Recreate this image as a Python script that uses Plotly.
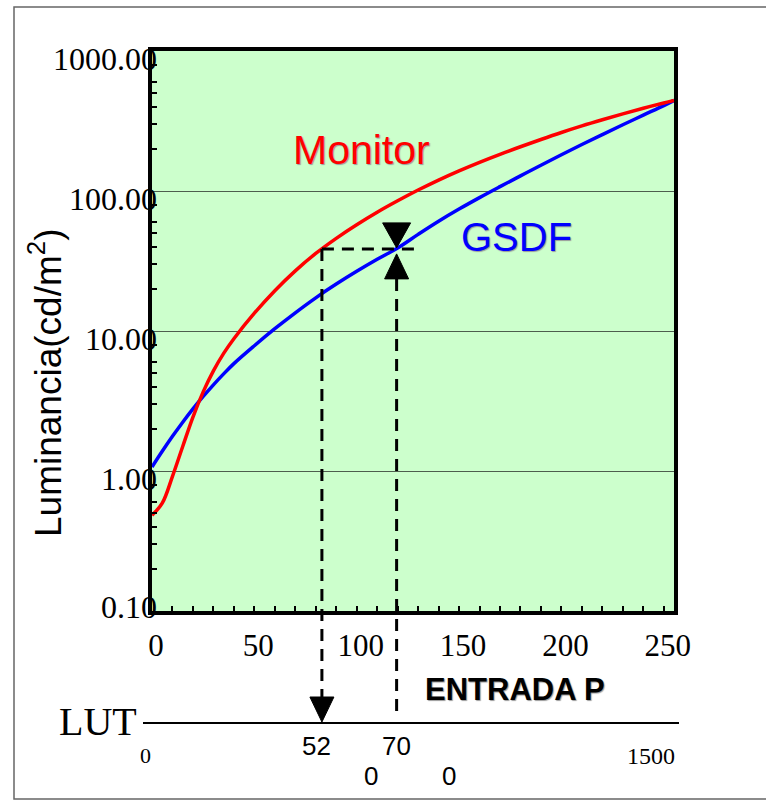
import numpy as np
import plotly.graph_objects as go

# ---------------- data ----------------
entrada = [0, 5, 10, 15, 20, 25, 30, 35, 40, 50, 60, 70, 80, 90, 100, 110, 120,
           130, 140, 150, 160, 170, 180, 190, 200, 210, 220, 230, 240, 250, 255]
monitor = [0.483, 0.589, 0.916, 1.496, 2.427, 3.673, 5.19, 6.92, 8.81, 13.4, 19.41,
           26.9, 35.8, 45.9, 57.4, 70.5, 85.1, 101.6, 119.7, 139.3, 160.3, 182.8,
           207.0, 233.3, 261.8, 291.7, 322.8, 355.6, 390.0, 425.6, 443.6]
gsdf = [1.068, 1.382, 1.768, 2.232, 2.777, 3.408, 4.126, 4.938, 5.848, 7.85, 10.38,
        13.49, 17.26, 21.63, 26.67, 32.5, 39.2, 49.0, 60.8, 74.3, 89.7, 107.4, 128.2,
        152.8, 181.6, 214.8, 252.9, 297.2, 348.3, 407.4, 443.6]

y_ticks = [0.1, 1, 10, 100, 1000]
y_tick_text = ["0.10", "1.00", "10.00", "100.00", "1000.00"]
x_ticks = [0, 50, 100, 150, 200, 250]
y_minor = [0.2, 0.3, 0.4, 0.5, 0.6, 0.8, 2, 3, 4, 5, 6, 8,
           20, 30, 40, 50, 60, 80, 200, 300, 400, 500, 600, 800]

p_monitor = 83.0     # entrada P on monitor curve
p_gsdf = 119.5       # entrada P on GSDF curve
l_target = 38.6      # target luminance
lut_labels = ["52", "70", "0", "0"]

# ---------------- geometry helpers ----------------
W, H = 766, 804
ML, MR, MT, MB = 152, 92, 51, 193
PW, PH = W - ML - MR, H - MT - MB
YLOG = (-1, 3)


def px(xp):
    return (xp - ML) / PW


def py(yp):
    return (H - MB - yp) / PH


def ypaper(v):
    return (np.log10(v) - YLOG[0]) / (YLOG[1] - YLOG[0])


l_mon_at_gsdf = 10 ** np.interp(p_gsdf, entrada, np.log10(monitor))

fig = go.Figure()
fig.add_trace(go.Scatter(x=entrada, y=gsdf, mode="lines",
                         line=dict(color="#0000FF", width=3.5, shape="spline", smoothing=1.0)))
fig.add_trace(go.Scatter(x=entrada, y=monitor, mode="lines",
                         line=dict(color="#FF0000", width=3.5, shape="spline", smoothing=1.0)))

shapes = []
# outer frame
shapes.append(dict(type="rect", xref="paper", yref="paper", x0=px(14), x1=px(772),
                   y0=py(799), y1=py(7), line=dict(color="#666666", width=1.5), layer="below"))
# LUT line
shapes.append(dict(type="line", xref="paper", yref="paper", x0=px(143), x1=px(679),
                   y0=py(723), y1=py(723), line=dict(color="black", width=2)))
dash = "12px,8px"
# vertical dashed line from monitor point down to LUT
shapes.append(dict(type="line", xref="x", x0=p_monitor, x1=p_monitor,
                   yref="paper", ysizemode="pixel", yanchor=ypaper(l_target), y0=0, y1=-448,
                   line=dict(color="black", width=3, dash=dash)))
# arrow on LUT line
shapes.append(dict(type="path", xref="x", xsizemode="pixel", xanchor=p_monitor,
                   yref="paper", ysizemode="pixel", yanchor=py(723),
                   path="M -12,26 L 12,26 L 0,1 Z", fillcolor="black", line=dict(color="black", width=1)))
# horizontal dashed line
shapes.append(dict(type="line", xref="x", x0=p_monitor, x1=p_gsdf + 10.5, yref="y",
                   y0=l_target, y1=l_target, line=dict(color="black", width=3, dash=dash)))
# solid stub from monitor curve
shapes.append(dict(type="line", xref="x", x0=p_gsdf, x1=p_gsdf, yref="y", ysizemode="pixel",
                   yanchor=l_mon_at_gsdf, y0=0, y1=-26, line=dict(color="black", width=4)))
# down triangle
shapes.append(dict(type="path", xref="x", xsizemode="pixel", xanchor=p_gsdf,
                   yref="y", ysizemode="pixel", yanchor=l_target,
                   path="M -14,26 L 14,26 L 0,1 Z", fillcolor="black", line=dict(color="black", width=1)))
# up triangle
shapes.append(dict(type="path", xref="x", xsizemode="pixel", xanchor=p_gsdf,
                   yref="y", ysizemode="pixel", yanchor=l_target,
                   path="M -12,-30 L 12,-30 L 0,-5 Z", fillcolor="black", line=dict(color="black", width=1)))
# vertical dashed line from GSDF point down
shapes.append(dict(type="line", xref="x", x0=p_gsdf, x1=p_gsdf,
                   yref="paper", ysizemode="pixel", yanchor=ypaper(l_target), y0=-30, y1=-468,
                   line=dict(color="black", width=3, dash=dash)))

serif = "Liberation Serif"
sans = "Liberation Sans"
ann = []
for v, t in zip(y_ticks, y_tick_text):
    ann.append(dict(xref="paper", x=0, xanchor="right", xshift=7,
                    yref="y", y=np.log10(v), yanchor="middle",
                    yshift=(4 if v == 0.1 else -8), text=t, showarrow=False,
                    font=dict(family=serif, size=32, color="black")))


def label(x, y, text, size, family=sans, color="black", xanchor="center", angle=0, shadow=None):
    f = dict(family=family, size=size, color=color)
    if shadow:
        f["shadow"] = shadow
    ann.append(dict(xref="paper", yref="paper", x=px(x), y=py(y), text=text, showarrow=False,
                    xanchor=xanchor, yanchor="middle", font=f, textangle=angle))


label(361, 150, "Monitor", 41, color="#FF0000", shadow="1px 1px 1px #9a9a9a")
label(516, 237, "GSDF", 40, color="#0000FF", shadow="1px 1px 1px #9a9a9a")
label(515, 689, "<b>ENTRADA P</b>", 31, shadow="1px 1px 1px #9a9a9a")
label(45, 383, "Luminancia(cd/m<sup>2</sup>)", 37, angle=-90)
label(139, 721, "LUT", 40, family=serif, xanchor="right")
label(145, 755, "0", 22, family=serif)
label(677, 756, "1500", 24, family=serif, xanchor="right")
label(316, 746, lut_labels[0], 26)
label(396, 746, lut_labels[1], 26)
label(371, 776, lut_labels[2], 26)
label(449, 776, lut_labels[3], 26)

fig.update_layout(
    width=W, height=H, autosize=False,
    margin=dict(l=ML, r=MR, t=MT, b=MB, pad=0),
    plot_bgcolor="#CCFFCC", paper_bgcolor="white", showlegend=False,
    shapes=shapes, annotations=ann,
    xaxis=dict(range=[0, 255], showline=True, linewidth=4, linecolor="black", mirror=True,
               showgrid=False, zeroline=False, ticks="inside", ticklen=5, tickwidth=1.5,
               tickcolor="black", tickvals=x_ticks,
               tickfont=dict(family=serif, size=31, color="black"),
               ticklabelshift=4, ticklabelstandoff=4,
               minor=dict(dtick=10, tick0=0, ticks="inside", ticklen=5, tickwidth=1.5,
                          tickcolor="black", showgrid=False)),
    yaxis=dict(type="log", range=list(YLOG), showline=True, linewidth=4, linecolor="black",
               mirror=True, zeroline=False, tickvals=y_ticks, showticklabels=False, ticks="",
               showgrid=True, gridcolor="#4d5d4d", gridwidth=1.2,
               minor=dict(tickvals=y_minor, ticks="inside", ticklen=5, tickwidth=1.5,
                          tickcolor="black", showgrid=False)),
)

fig.write_html("out.html")
